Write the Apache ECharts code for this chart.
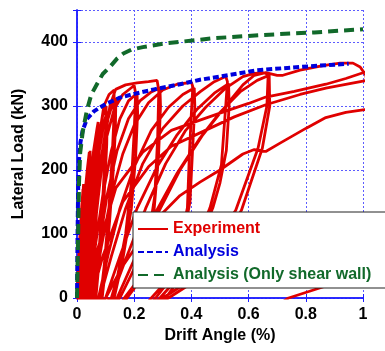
<!DOCTYPE html>
<html>
<head>
<meta charset="utf-8">
<script src="https://cdn.jsdelivr.net/npm/echarts@6.0.0/dist/echarts.min.js"></script>
<style>
    html, body { margin: 0; padding: 0; background: #fff; }
    #viewDiv { width: 385px; height: 351px; }
</style>
</head>
<body>
<div id="viewDiv"></div>
<script>
    //axis ticks
    var xTicks = [0, 0.2, 0.4, 0.6, 0.8, 1];
    var yTicks = [0, 100, 200, 300, 400];

    //Analysis (blue)
    var analysisX = [0, 0.002, 0.004, 0.007, 0.012, 0.02, 0.035, 0.06, 0.1, 0.15, 0.2, 0.27, 0.36, 0.43, 0.5, 0.63, 0.78, 0.88, 0.95];
    var analysisY = [0, 100, 170, 215, 243, 262, 280, 292, 303, 313, 319, 326, 334, 341, 346, 356, 361, 364, 366];

    //Analysis, only shear wall (green)
    var wallX = [0, 0.004, 0.007, 0.011, 0.02, 0.035, 0.05, 0.072, 0.09, 0.115, 0.14, 0.162, 0.19, 0.23, 0.31, 0.42, 0.48, 0.65, 0.83, 1.0];
    var wallY = [0, 100, 180, 226, 260, 294, 318, 336, 350, 361, 374, 382, 388, 392, 398, 403, 406, 411, 415, 420];

    //Experiment: one half-loop per cycle (drift %, load kN), negative parts get clipped
    var cyc002a = [[0, 0], [0.008, 80], [0.016, 140], [0.021, 170], [0.019, 120], [0.012, 40], [0.006, 0], [-0.02, -160]];
    var cyc002b = [[0.003, 0], [0.011, 85], [0.018, 145], [0.023, 178], [0.021, 125], [0.014, 40], [0.008, 0], [-0.02, -170]];
    var cyc004a = [[0.005, 0], [0.015, 90], [0.027, 160], [0.037, 205], [0.043, 228], [0.041, 170], [0.032, 70], [0.022, 0], [-0.04, -230]];
    var cyc004b = [[0.009, 0], [0.02, 85], [0.031, 150], [0.04, 200], [0.046, 230], [0.044, 175], [0.035, 70], [0.026, 0], [-0.04, -235]];
    var cyc007a = [[0.012, 0], [0.026, 90], [0.042, 170], [0.058, 230], [0.07, 265], [0.074, 275], [0.072, 215], [0.06, 100], [0.046, 0], [-0.07, -280]];
    var cyc007b = [[0.017, 0], [0.032, 85], [0.048, 160], [0.063, 220], [0.073, 255], [0.078, 268], [0.076, 205], [0.064, 95], [0.05, 0], [-0.07, -280]];
    var cyc010a = [[0.015, 0], [0.03, 80], [0.05, 170], [0.07, 240], [0.09, 285], [0.102, 300], [0.1, 250], [0.092, 170], [0.078, 80], [0.062, 0], [-0.1, -300]];
    var cyc010b = [[0.022, 0], [0.038, 75], [0.058, 160], [0.078, 230], [0.095, 275], [0.106, 292], [0.104, 240], [0.095, 160], [0.08, 70], [0.066, 0], [-0.1, -300]];
    var cyc013a = [[0.02, 0], [0.035, 80], [0.055, 170], [0.075, 245], [0.094, 300], [0.112, 318], [0.13, 325], [0.128, 270], [0.122, 213], [0.11, 130], [0.095, 50], [0.082, 0], [-0.13, -320]];
    var cyc013b = [[0.028, 0], [0.045, 70], [0.065, 150], [0.085, 220], [0.105, 275], [0.125, 305], [0.136, 312], [0.134, 260], [0.127, 200], [0.114, 120], [0.098, 40], [0.088, 0], [-0.13, -320]];
    var cyc020a = [[0.03, 0], [0.05, 80], [0.075, 170], [0.1, 245], [0.13, 295], [0.16, 318], [0.2, 332], [0.205, 320], [0.2, 260], [0.19, 180], [0.17, 100], [0.14, 30], [0.12, 0], [-0.2, -330]];
    var cyc020b = [[0.04, 0], [0.062, 75], [0.09, 160], [0.12, 230], [0.15, 280], [0.18, 308], [0.21, 320], [0.212, 290], [0.205, 220], [0.19, 140], [0.16, 60], [0.13, 0], [-0.2, -330]];
    var cyc027a = [[0.035, 0], [0.055, 80], [0.08, 180], [0.1, 255], [0.115, 300], [0.135, 326], [0.17, 333], [0.21, 336], [0.25, 338], [0.28, 340], [0.286, 325], [0.282, 250], [0.272, 160], [0.245, 80], [0.2, 20], [0.165, 0], [-0.27, -340]];
    var cyc027b = [[0.05, 0], [0.075, 75], [0.105, 160], [0.14, 230], [0.18, 280], [0.22, 308], [0.26, 322], [0.29, 328], [0.292, 300], [0.285, 220], [0.27, 140], [0.24, 65], [0.2, 15], [0.175, 0], [-0.27, -335]];
    var cyc040a = [[0.055, 0], [0.085, 80], [0.12, 160], [0.16, 225], [0.2, 270], [0.25, 305], [0.3, 325], [0.35, 334], [0.4, 337], [0.405, 330], [0.4, 290], [0.393, 225], [0.386, 141], [0.355, 75], [0.3, 20], [0.26, 0], [-0.4, -340]];
    var cyc040b = [[0.075, 0], [0.11, 70], [0.15, 140], [0.2, 205], [0.26, 262], [0.32, 298], [0.37, 318], [0.41, 328], [0.412, 300], [0.404, 230], [0.395, 150], [0.36, 70], [0.31, 20], [0.275, 0], [-0.4, -340]];
    var cyc053a = [[0.08, 0], [0.12, 65], [0.17, 140], [0.23, 210], [0.3, 265], [0.37, 300], [0.43, 322], [0.48, 338], [0.52, 346], [0.526, 338], [0.52, 300], [0.505, 208], [0.465, 141], [0.41, 80], [0.34, 25], [0.29, 0], [-0.53, -340]];
    var cyc053b = [[0.1, 0], [0.15, 65], [0.21, 140], [0.28, 205], [0.35, 255], [0.42, 295], [0.48, 320], [0.53, 335], [0.532, 300], [0.522, 230], [0.5, 180], [0.475, 141], [0.42, 80], [0.35, 25], [0.31, 0], [-0.53, -340]];
    var cyc067a = [[0.12, 0], [0.17, 60], [0.24, 140], [0.31, 210], [0.38, 262], [0.45, 298], [0.52, 328], [0.58, 346], [0.62, 351], [0.66, 352], [0.668, 345], [0.664, 300], [0.633, 234], [0.555, 137], [0.46, 75], [0.38, 23], [0.3, 0], [-0.67, -340]];
    var cyc067b = [[0.14, 0], [0.2, 60], [0.27, 130], [0.35, 195], [0.43, 250], [0.5, 290], [0.57, 322], [0.63, 340], [0.672, 348], [0.674, 300], [0.648, 234], [0.575, 137], [0.48, 70], [0.4, 23], [0.32, 0], [-0.67, -340]];
    var cyc100a = [[0.15, 0], [0.21, 55], [0.28, 130], [0.36, 200], [0.44, 255], [0.52, 300], [0.58, 333], [0.62, 348], [0.66, 352], [0.7, 348], [0.72, 348], [0.78, 356], [0.86, 363], [0.92, 367], [0.965, 367], [0.99, 361], [1.01, 348], [1.04, 250], [1.05, -100]];
    var cyc100b = [[0.03, 0], [0.066, 67], [0.136, 172], [0.23, 228], [0.33, 262], [0.43, 278], [0.52, 292], [0.6, 304], [0.66, 314], [0.76, 323], [0.87, 334], [0.94, 343], [1.0, 352], [1.06, 360], [1.08, -100]];
    var cyc133a = [[0.05, 0], [0.09, 65], [0.16, 150], [0.25, 205], [0.33, 237], [0.43, 258], [0.55, 283], [0.66, 302], [0.78, 318], [0.87, 328], [1.0, 339], [1.1, 346], [1.12, -100]];
    var cyc133b = [[0.1, 0], [0.16, 50], [0.26, 115], [0.36, 160], [0.43, 181], [0.5, 200], [0.58, 225], [0.62, 232], [0.66, 229], [0.71, 242], [0.8, 265], [0.87, 282], [0.94, 290], [1.0, 294], [1.1, 300], [1.1, 200], [1.0, 100], [0.9, 23], [0.74, 0], [0.6, -40]];

    var expData = [].concat(cyc002a, cyc002b, cyc004a, cyc004b, cyc007a, cyc007b,
        cyc010a, cyc010b, cyc013a, cyc013b, cyc020a, cyc020b, cyc027a, cyc027b,
        cyc040a, cyc040b, cyc053a, cyc053b, cyc067a, cyc067b,
        cyc100a, cyc100b, cyc133a, cyc133b);

    function pairs(xs, ys) {
        return xs.map(function (x, i) { return [x, ys[i]]; });
    }

    var RED = '#e00000', BLUE = '#0000dd', GREEN = '#11692a', FRAME = '#1f1fff';
    var font = '"Liberation Sans", Arial, sans-serif';

    var myChart = echarts.init(document.getElementById('viewDiv'));

    var gridLine = { show: true, lineStyle: { color: '#5c5cff', width: 1, type: [2, 2] } };

    var option = {
        animation: false,
        backgroundColor: '#fff',
        grid: { left: 77, right: 22, top: 10, bottom: 53, containLabel: false, outerBoundsMode: 'none' },
        legend: {
            orient: 'vertical',
            left: 133,
            top: 212,
            padding: [9, 34, 5, 4],
            itemGap: 7,
            itemWidth: 30,
            itemHeight: 14,
            backgroundColor: '#fff',
            borderColor: '#222',
            borderWidth: 1,
            itemStyle: { opacity: 0 },
            textStyle: { fontFamily: font, fontWeight: 'bold', fontSize: 16 },
            data: [
                { name: 'Experiment', textStyle: { color: RED } },
                { name: 'Analysis', textStyle: { color: BLUE } },
                { name: 'Analysis (Only shear wall)', textStyle: { color: GREEN } }
            ]
        },
        xAxis: [{
            type: 'value',
            min: 0, max: 1, interval: 0.2,
            name: 'Drift Angle (%)',
            nameLocation: 'middle',
            nameGap: 29,
            nameTextStyle: { fontFamily: font, fontWeight: 'bold', fontSize: 16, color: '#000' },
            axisLine: { show: true, lineStyle: { color: FRAME, width: 1.5 } },
            axisTick: { show: true, inside: true, length: 4, lineStyle: { color: FRAME } },
            axisLabel: {
                margin: 9, color: '#000', fontFamily: font, fontWeight: 'bold', fontSize: 16,
                formatter: function (v) { return xTicks.indexOf(v) >= 0 ? String(v) : ''; }
            },
            splitLine: gridLine
        }, {
            type: 'value', position: 'top',
            min: 0, max: 1, interval: 0.2,
            axisLine: { show: true, lineStyle: { color: FRAME, width: 1.5 } },
            axisTick: { show: true, inside: true, length: 4, lineStyle: { color: FRAME } },
            axisLabel: { show: false },
            splitLine: { show: false }
        }],
        yAxis: [{
            type: 'value',
            min: 0, max: 450, interval: 100,
            name: 'Lateral Load (kN)',
            nameLocation: 'middle',
            nameGap: 50,
            nameTextStyle: { fontFamily: font, fontWeight: 'bold', fontSize: 16, color: '#000' },
            axisLine: { show: true, lineStyle: { color: FRAME, width: 1.5 } },
            axisTick: { show: true, inside: true, length: 4, lineStyle: { color: FRAME } },
            axisLabel: {
                margin: 9, color: '#000', fontFamily: font, fontWeight: 'bold', fontSize: 16,
                formatter: function (v) { return yTicks.indexOf(v) >= 0 ? String(v) : ''; }
            },
            splitLine: gridLine
        }, {
            type: 'value', position: 'right',
            min: 0, max: 450, interval: 100,
            axisLine: { show: true, lineStyle: { color: FRAME, width: 1.5 } },
            axisTick: { show: true, inside: true, length: 4, lineStyle: { color: FRAME } },
            axisLabel: { show: false },
            splitLine: { show: false }
        }],
        series: [{
            name: 'Experiment',
            type: 'line',
            data: expData,
            showSymbol: false,
            symbol: 'none',
            clip: true,
            lineStyle: { color: RED, width: 2.8 },
            itemStyle: { color: RED, opacity: 0 },
            z: 2
        }, {
            name: 'Analysis',
            type: 'line',
            data: pairs(analysisX, analysisY),
            showSymbol: false,
            symbol: 'none',
            clip: true,
            lineStyle: { color: BLUE, width: 4, type: [6, 3] },
            itemStyle: { color: BLUE, opacity: 0 },
            z: 3
        }, {
            name: 'Analysis (Only shear wall)',
            type: 'line',
            data: pairs(wallX, wallY),
            showSymbol: false,
            symbol: 'none',
            clip: true,
            lineStyle: { color: GREEN, width: 4, type: [10, 6] },
            itemStyle: { color: GREEN, opacity: 0 },
            z: 3
        }]
    };
    myChart.setOption(option);
</script>
</body>
</html>
